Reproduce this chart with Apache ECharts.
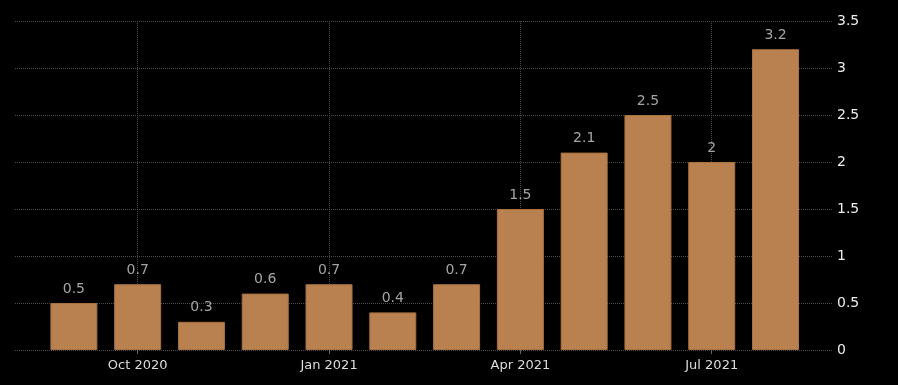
<!DOCTYPE html>
<html>
<head>
<meta charset="utf-8">
<script src="https://cdn.jsdelivr.net/npm/echarts@6/dist/echarts.min.js"></script>
<style>
html,body{margin:0;padding:0;background:#000;}
#c{width:898px;height:385px;}
</style>
</head>
<body>
<div id="c"></div>
<script>
const categories = ['Sep 2020','Oct 2020','Nov 2020','Dec 2020','Jan 2021','Feb 2021','Mar 2021','Apr 2021','May 2021','Jun 2021','Jul 2021','Aug 2021'];
const values = [0.5, 0.7, 0.3, 0.6, 0.7, 0.4, 0.7, 1.5, 2.1, 2.5, 2, 3.2];
const shownLabels = ['Oct 2020','Jan 2021','Apr 2021','Jul 2021'];
const yTicks = [0, 0.5, 1, 1.5, 2, 2.5, 3, 3.5];

const FONT = 'DejaVu Sans';
const chart = echarts.init(document.getElementById('c'));
chart.setOption({
  backgroundColor: '#000000',
  animation: false,
  grid: [
    {left: 15, right: 65, top: 21, bottom: 35},
    {left: 42, right: 90.6, top: 21, bottom: 35}
  ],
  xAxis: [
    {gridIndex: 0, type: 'value', min: 0, max: 1, show: false},
    {gridIndex: 1, type: 'category', data: categories,
     axisLine: {show: false},
     axisTick: {show: true, alignWithLabel: true, length: 4,
       interval: (i, v) => shownLabels.includes(v),
       lineStyle: {color: '#666'}},
     axisLabel: {interval: (i, v) => shownLabels.includes(v),
       color: '#dcdcdc', fontFamily: FONT, fontSize: 13, margin: 9},
     splitLine: {show: false}}
  ],
  yAxis: [
    {gridIndex: 0, type: 'value', position: 'right',
     min: yTicks[0], max: yTicks[yTicks.length-1], interval: 0.5,
     axisLine: {show: false}, axisTick: {show: false},
     axisLabel: {color: '#ececec', fontFamily: FONT, fontSize: 14, margin: 4},
     splitLine: {show: true, lineStyle: {color: '#4a4a4a', type: 'dotted', width: 1}}},
    {gridIndex: 1, type: 'value', min: yTicks[0], max: yTicks[yTicks.length-1], show: false}
  ],
  series: [{
    type: 'line',
    xAxisIndex: 1, yAxisIndex: 1,
    data: values,
    z: 1,
    symbol: 'none',
    lineStyle: {opacity: 0},
    silent: true,
    markLine: {
      z: 0,
      silent: true, symbol: 'none', label: {show: false},
      lineStyle: {color: '#4a4a4a', type: 'dotted', width: 1},
      data: shownLabels.map(l => ({xAxis: l}))
    }
  }, {
    type: 'bar',
    xAxisIndex: 1, yAxisIndex: 1,
    data: values,
    z: 3,
    barWidth: 47,
    itemStyle: {color: '#b98050', borderColor: '#a8713f', borderWidth: 1},
    label: {show: true, position: 'top', distance: 7, color: '#a4a4a4',
      fontFamily: FONT, fontSize: 14}
  }]
});
</script>
</body>
</html>
